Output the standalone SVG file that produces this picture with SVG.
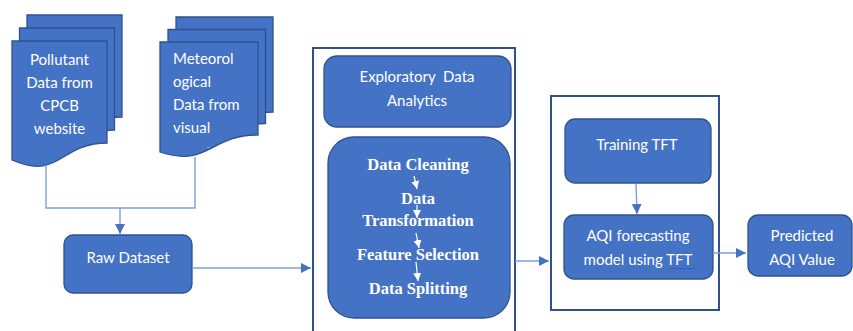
<svg xmlns="http://www.w3.org/2000/svg" width="853" height="331" viewBox="0 0 853 331">
<defs>
<style>
.box{fill:#4472c4;stroke:#2f528f;stroke-width:1.3}
.frame{fill:#ffffff;stroke:#2f528f;stroke-width:2}
.t{font-family:Lato,"Liberation Sans",sans-serif;font-size:15px;fill:#ffffff}
.c{text-anchor:middle}
.b{font-family:"Liberation Serif",serif;font-size:16.5px;font-weight:bold;fill:#ffffff;text-anchor:middle}
.ln{fill:none;stroke:#7f9fdc;stroke-width:1.4}
.wl{fill:none;stroke:#ffffff;stroke-width:1.2}
</style>
<marker id="ah" viewBox="0 0 10 10" refX="10" refY="5" markerWidth="10" markerHeight="10" markerUnits="userSpaceOnUse" orient="auto">
<path d="M0,0 L10,5 L0,10 Z" fill="#4472c4"/>
</marker>
<marker id="wh" viewBox="0 0 10 10" refX="10" refY="5" markerWidth="8" markerHeight="8" markerUnits="userSpaceOnUse" orient="auto">
<path d="M0,0 L10,5 L0,10 Z" fill="#ffffff"/>
</marker>
</defs>

<g id="pollutant-docs">
<path class="box" d="M27,15 H122 V117 C74.5,117 74.5,155 27,134 Z"/>
<path class="box" d="M19.5,28 H114.5 V130 C67,130 67,168 19.5,147 Z"/>
<path class="box" d="M12,41 H107 V143 C59.5,143 59.5,181 12,160 Z"/>
<text class="t c" x="59.5" y="65">Pollutant</text>
<text class="t c" x="59.5" y="88">Data from</text>
<text class="t c" x="59.5" y="111">CPCB</text>
<text class="t c" x="59.5" y="134">website</text>
</g>

<g id="meteorological-docs">
<path class="box" d="M176,17 H273 V112 C224.5,112 224.5,145 176,129 Z"/>
<path class="box" d="M168,29.5 H265.5 V123.5 C217,123.5 217,156.5 168,140.5 Z"/>
<path class="box" d="M160,42 H258 V135 C209,135 209,168 160,152 Z"/>
<text class="t" x="173" y="64">Meteorol</text>
<text class="t" x="173" y="87">ogical</text>
<text class="t" x="173" y="110">Data from</text>
<text class="t" x="173" y="133">visual</text>
<text class="t" x="207" y="148" style="font-size:8px">.</text>
</g>

<g id="raw-dataset">
<rect class="box" x="64" y="235" width="128" height="58" rx="9"/>
<text class="t c" x="128" y="263">Raw Dataset</text>
</g>

<g id="preprocessing-frame">
<rect class="frame" x="313" y="48" width="202" height="290"/>
</g>

<g id="eda">
<rect class="box" x="324" y="56" width="187" height="71" rx="13"/>
<text class="t c" x="417" y="82">Exploratory&#160; Data</text>
<text class="t c" x="417" y="106">Analytics</text>
</g>

<g id="preprocessing">
<rect class="box" x="328" y="137" width="182" height="181" rx="26"/>
<text class="b" x="418" y="170">Data Cleaning</text>
<text class="b" x="418" y="204">Data</text>
<text class="b" x="418" y="226">Transformation</text>
<text class="b" x="418" y="260">Feature Selection</text>
<text class="b" x="418" y="294">Data Splitting</text>
<line class="wl" x1="414" y1="176" x2="417" y2="189" marker-end="url(#wh)"/>
<line class="wl" x1="417" y1="205" x2="417" y2="218" marker-end="url(#wh)"/>
<line class="wl" x1="416" y1="233" x2="419" y2="248" marker-end="url(#wh)"/>
<line class="wl" x1="416" y1="262" x2="418" y2="281" marker-end="url(#wh)"/>
</g>

<g id="model-frame">
<rect class="frame" x="551" y="96" width="168" height="214"/>
</g>

<g id="training-tft">
<rect class="box" x="565" y="119" width="146" height="64" rx="10"/>
<text class="t c" x="637" y="150">Training TFT</text>
</g>

<g id="aqi-model">
<rect class="box" x="564" y="215" width="149" height="64" rx="10"/>
<text class="t c" x="638" y="241">AQI forecasting</text>
<text class="t c" x="638" y="265">model using TFT</text>
<line x1="670" y1="268.5" x2="695" y2="268.5" stroke="#2a5bd7" stroke-width="1"/>
</g>

<g id="predicted">
<rect class="box" x="748" y="215" width="104" height="61" rx="10"/>
<text class="t c" x="802" y="241">Predicted</text>
<text class="t c" x="802" y="265">AQI Value</text>
</g>

<g id="connectors">
<polyline class="ln" points="46,165 46,208 195,208 195,157"/>
<line class="ln" x1="120" y1="208" x2="120" y2="234" marker-end="url(#ah)"/>
<line class="ln" x1="192" y1="268" x2="311" y2="268" marker-end="url(#ah)"/>
<line class="ln" x1="515" y1="261" x2="549" y2="261" marker-end="url(#ah)"/>
<line class="ln" x1="636" y1="184" x2="637" y2="214" marker-end="url(#ah)"/>
<line class="ln" x1="713" y1="253" x2="746" y2="253" marker-end="url(#ah)"/>
</g>
</svg>
